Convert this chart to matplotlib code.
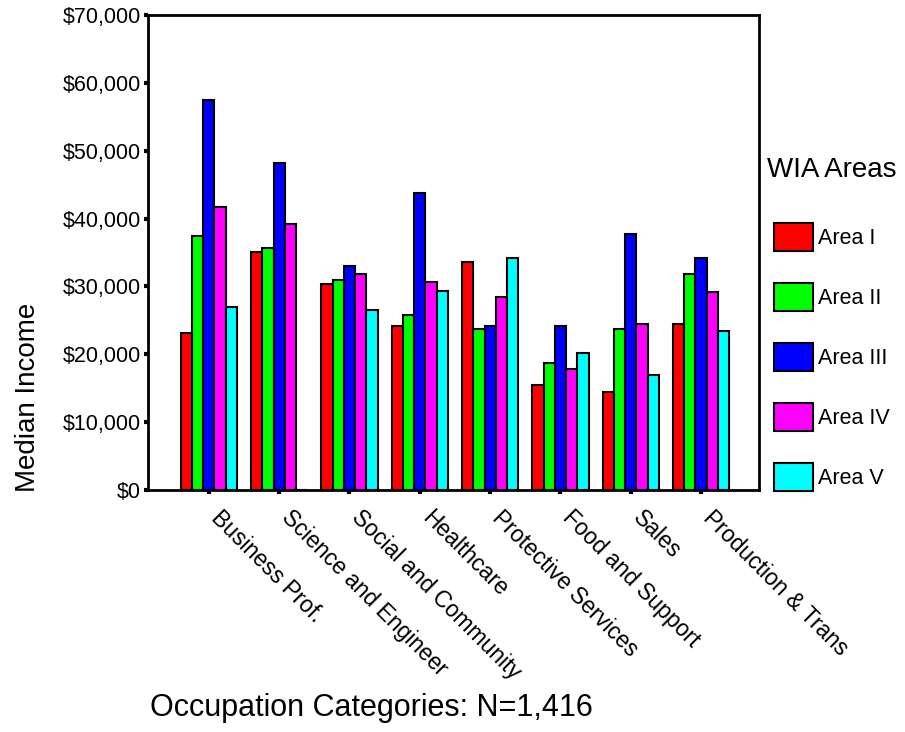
import numpy as np
import matplotlib
matplotlib.use("Agg")
from matplotlib import pyplot as plt
from matplotlib.ticker import FuncFormatter
from matplotlib.transforms import ScaledTranslation

plt.rcParams['font.family'] = ['Liberation Sans', 'DejaVu Sans']

categories = ["Business Prof.", "Science and Engineer", "Social and Community",
              "Healthcare", "Protective Services", "Food and Support", "Sales",
              "Production & Trans"]
areas = ["Area I", "Area II", "Area III", "Area IV", "Area V"]
colors = ["#FF0000", "#00FF00", "#0000FF", "#FF00FF", "#00FFFF"]

area1 = [23200, 35100, 30300, 24100, 33600, 15500, 14500, 24400]
area2 = [37500, 35700, 30900, 25800, 23800, 18700, 23800, 31800]
area3 = [57500, 48200, 33000, 43700, 24100, 24100, 37800, 34200]
area4 = [41700, 39200, 31900, 30700, 28500, 17800, 24400, 29200]
area5 = [27000, 0, 26500, 29400, 34200, 20200, 16900, 23500]
series = [area1, area2, area3, area4, area5]

fig = plt.figure(figsize=(9.05, 7.32), dpi=100)
ax = fig.add_axes([148/905, 1-490/732, (758.5-148)/905, (490-15)/732])

x = np.arange(len(categories))
w = 0.16
bars = []
for i in range(5):
    b = ax.bar(x + (i-2)*w, series[i], w, color=colors[i], edgecolor="black",
               linewidth=1.5, label=areas[i])
    bars.append(b)

ax.set_xlim(-0.865, 7.816)
ax.set_ylim(0, 70000)
ax.set_yticks(np.arange(0, 70001, 10000))
ax.yaxis.set_major_formatter(FuncFormatter(lambda v, p: "${:,.0f}".format(v)))
ax.set_xticks(x)
ax.set_xticklabels([])
# slanted category labels, hanging from each tick
off = ax.get_xaxis_transform() + ScaledTranslation(14/100, -16/100, fig.dpi_scale_trans)
for xi, lab in zip(x, categories):
    ax.text(xi, 0, lab, transform=off, rotation=-45, ha="left", va="top",
            rotation_mode="anchor", fontsize=16.5)
ax.tick_params(axis="y", labelsize=15.5, length=3, width=3, direction="out", pad=2)
ax.tick_params(axis="x", length=3, width=3, direction="out")
for s in ax.spines.values():
    s.set_linewidth(2)

fig.text(28/905, 1-397/732, "Median Income", rotation=90, ha="center",
         va="center", fontsize=20)
fig.text(371/905, 1-708/732, "Occupation Categories: N=1,416", ha="center",
         va="center", fontsize=22)
fig.text(767/905, 1-170/732, "WIA Areas", ha="left", va="center", fontsize=20)

leg = fig.legend(handles=bars, labels=areas, loc="upper left",
                 bbox_to_anchor=(774/905, 1-223/732), frameon=False,
                 fontsize=15.5, handlelength=1.8, handleheight=1.626,
                 labelspacing=1.49, handletextpad=0.25, borderpad=0,
                 borderaxespad=0)

fig.savefig("out.png", dpi=100)
